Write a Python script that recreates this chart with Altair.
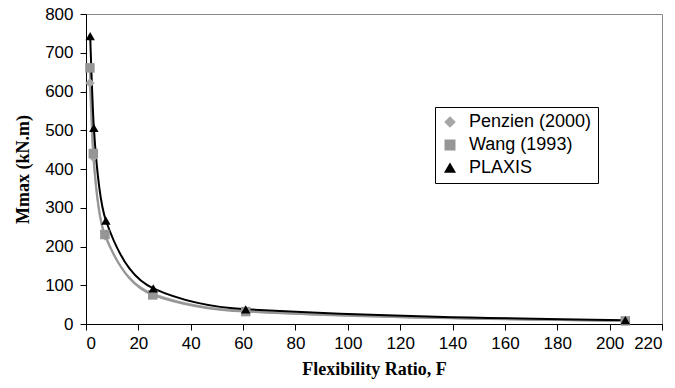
import altair as alt
import pandas as pd

series = ["Penzien (2000)", "Wang (1993)", "PLAXIS"]
f_penzien = [1.5, 2.8, 7.2, 25.5, 61, 206]
m_penzien = [622, 430, 228, 78, 33, 8]
f_wang = [1.5, 2.8, 7.2, 25.5, 61, 206]
m_wang = [661, 440, 231, 75, 32, 8]
f_plaxis = [1.6, 3.0, 7.6, 25.7, 61, 206]
m_plaxis = [743, 506, 267, 92, 38, 10]

rows = []
for name, fs, ms in [(series[0], f_penzien, m_penzien), (series[1], f_wang, m_wang), (series[2], f_plaxis, m_plaxis)]:
    for f, m in zip(fs, ms):
        rows.append({"series": name, "F": f, "M": m})
df = pd.DataFrame(rows)

colors = ["#a6a6a6", "#969696", "#000000"]
shapes = ["diamond", "square", "triangle-up"]

x = alt.X("F:Q", scale=alt.Scale(domain=[0, 220], nice=False),
          axis=alt.Axis(values=list(range(0, 221, 20)), title="Flexibility Ratio, F"))
y = alt.Y("M:Q", scale=alt.Scale(domain=[0, 800], nice=False),
          axis=alt.Axis(values=list(range(0, 801, 100)), title="Mmax (kN.m)"))
legend = alt.Legend(title=None, orient="none", legendX=349, legendY=93,
                    strokeColor="#000", fillColor="white", padding=6,
                    labelFont="Liberation Sans", labelFontSize=18,
                    labelColor="#000", symbolSize=90, rowPadding=5, labelOffset=10)
color = alt.Color("series:N", scale=alt.Scale(domain=series, range=colors), legend=legend)
shape = alt.Shape("series:N", scale=alt.Scale(domain=series, range=shapes), legend=legend)

lines = alt.Chart(df).mark_line(interpolate="monotone", strokeWidth=2).encode(
    x=x, y=y, color=color)
points = alt.Chart(df).mark_point(filled=True, size=90, opacity=1).encode(
    x=x, y=y, color=color, shape=shape)

chart = alt.layer(lines, points).properties(
    width=576, height=310,
    autosize=alt.AutoSizeParams(type="none"),
    padding={"left": 78, "top": 6, "right": 5, "bottom": 60},
).configure_view(stroke="#888", strokeWidth=1).configure_axis(
    grid=False, domainColor="#000", tickColor="#000", tickSize=6,
    labelFont="Liberation Sans", labelFontSize=17, labelColor="#000",
    titleFont="Liberation Serif", titleFontSize=18, titleFontWeight="bold", titleColor="#000",
).configure_axisX(titlePadding=9, labelPadding=5).configure_axisY(titlePadding=12, labelPadding=7)

chart.save("out.html", embed_options={"renderer": "svg", "actions": False})
